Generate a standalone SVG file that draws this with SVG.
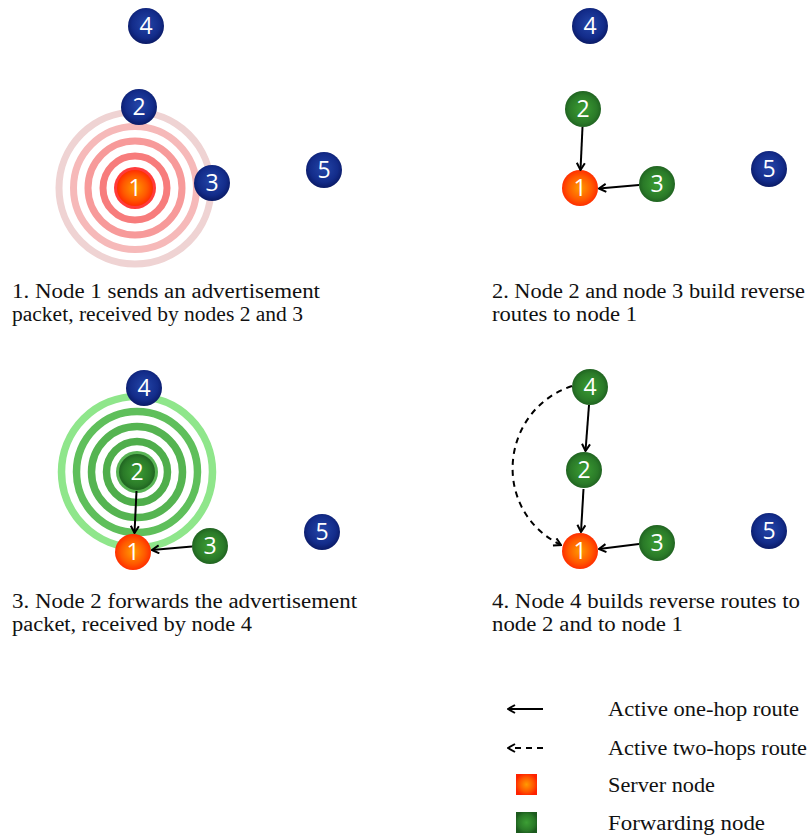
<svg xmlns="http://www.w3.org/2000/svg" width="811" height="835" viewBox="0 0 811 835">
  <style>
    .lbl { font-family: "Open Sans", "DejaVu Sans", sans-serif; font-size: 23px; fill: #ffffff; text-anchor: middle; }
    .cap { font-family: "Liberation Serif", "DejaVu Serif", serif; font-size: 20.5px; fill: #111111; }
    .route { stroke: #000; stroke-width: 2; fill: none; }
    .dash { stroke-dasharray: 6 5; }
    .red-ring { fill: none; stroke-width: 7; }
    .green-ring { fill: none; stroke-width: 7.5; }
  </style>
  <defs>
    <radialGradient id="gBlue" cx="50%" cy="45%" r="55%">
      <stop offset="0" stop-color="#2446a8"/>
      <stop offset="0.7" stop-color="#132c8a"/>
      <stop offset="1" stop-color="#0a1a66"/>
    </radialGradient>
    <radialGradient id="gRed" cx="50%" cy="50%" r="55%">
      <stop offset="0" stop-color="#ff9a00"/>
      <stop offset="0.6" stop-color="#ff5a00"/>
      <stop offset="1" stop-color="#ff2200"/>
    </radialGradient>
    <radialGradient id="gGreen" cx="50%" cy="50%" r="55%">
      <stop offset="0" stop-color="#3c9e34"/>
      <stop offset="0.7" stop-color="#2a7a28"/>
      <stop offset="1" stop-color="#1c5a1e"/>
    </radialGradient>
    <marker id="head" viewBox="0 0 10 10" refX="9" refY="5" markerWidth="10" markerHeight="10" markerUnits="userSpaceOnUse" orient="auto-start-reverse">
      <path d="M2,1 L9,5 L2,9" fill="none" stroke="#000" stroke-width="2"/>
    </marker>
  </defs>

  <!-- Panel 1: node 1 advertises -->
  <g id="p1-waves">
    <circle class="red-ring" cx="135" cy="188" r="76" stroke="#efd3d3"/>
    <circle class="red-ring" cx="135" cy="188" r="61.5" stroke="#f6b9b9"/>
    <circle class="red-ring" cx="135" cy="188" r="47" stroke="#f79a9a"/>
    <circle class="red-ring" cx="135" cy="188" r="32" stroke="#f77c7c"/>
    <circle cx="135" cy="188" r="21" fill="#ff3b3b"/>
  </g>
  <g id="p1-n4"><circle cx="146" cy="26" r="18" fill="url(#gBlue)"/><text class="lbl" x="146" y="34">4</text></g>
  <g id="p1-n2"><circle cx="139" cy="107" r="18" fill="url(#gBlue)"/><text class="lbl" x="139" y="115">2</text></g>
  <g id="p1-n1"><circle cx="135" cy="188" r="18" fill="url(#gRed)"/><text class="lbl" x="135" y="196">1</text></g>
  <g id="p1-n3"><circle cx="212" cy="183" r="18" fill="url(#gBlue)"/><text class="lbl" x="212" y="191">3</text></g>
  <g id="p1-n5"><circle cx="324" cy="170" r="18" fill="url(#gBlue)"/><text class="lbl" x="324" y="178">5</text></g>
  <text class="cap" x="12" y="298" textLength="308" lengthAdjust="spacingAndGlyphs">1. Node 1 sends an advertisement</text>
  <text class="cap" x="12" y="321" textLength="291" lengthAdjust="spacingAndGlyphs">packet, received by nodes 2 and 3</text>

  <!-- Panel 2: reverse routes to node 1 -->
  <g id="p2-n4"><circle cx="590" cy="26" r="18" fill="url(#gBlue)"/><text class="lbl" x="590" y="34">4</text></g>
  <g id="p2-n2"><circle cx="583" cy="109" r="18" fill="url(#gGreen)"/><text class="lbl" x="583" y="117">2</text></g>
  <g id="p2-n1"><circle cx="580" cy="188" r="18" fill="url(#gRed)"/><text class="lbl" x="580" y="196">1</text></g>
  <g id="p2-n3"><circle cx="657" cy="184" r="18" fill="url(#gGreen)"/><text class="lbl" x="657" y="192">3</text></g>
  <g id="p2-n5"><circle cx="769" cy="169" r="18" fill="url(#gBlue)"/><text class="lbl" x="769" y="177">5</text></g>
  <text class="cap" x="492" y="298" textLength="313" lengthAdjust="spacingAndGlyphs">2. Node 2 and node 3 build reverse</text>
  <text class="cap" x="492" y="321" textLength="145" lengthAdjust="spacingAndGlyphs">routes to node 1</text>

  <!-- Panel 3: node 2 forwards -->
  <g id="p3-waves">
    <circle class="green-ring" cx="137" cy="472" r="75.5" stroke="#8fe68b"/>
    <circle class="green-ring" cx="137" cy="472" r="60.5" stroke="#5fbf5b"/>
    <circle class="green-ring" cx="137" cy="472" r="45.5" stroke="#55b451"/>
    <circle class="green-ring" cx="137" cy="472" r="30.5" stroke="#4fae4b"/>
    <circle cx="137" cy="472" r="21" fill="#58b454"/>
  </g>
  <g id="p3-n4"><circle cx="144" cy="388" r="18" fill="url(#gBlue)"/><text class="lbl" x="144" y="396">4</text></g>
  <g id="p3-n2"><circle cx="137" cy="472" r="18" fill="url(#gGreen)"/><text class="lbl" x="137" y="480">2</text></g>
  <g id="p3-n1"><circle cx="133" cy="552" r="18" fill="url(#gRed)"/><text class="lbl" x="133" y="560">1</text></g>
  <g id="p3-n3"><circle cx="210" cy="546" r="18" fill="url(#gGreen)"/><text class="lbl" x="210" y="554">3</text></g>
  <g id="p3-n5"><circle cx="322" cy="532" r="18" fill="url(#gBlue)"/><text class="lbl" x="322" y="540">5</text></g>
  <text class="cap" x="12" y="608" textLength="345" lengthAdjust="spacingAndGlyphs">3. Node 2 forwards the advertisement</text>
  <text class="cap" x="12" y="631" textLength="240" lengthAdjust="spacingAndGlyphs">packet, received by node 4</text>

  <!-- Panel 4: node 4 builds routes -->
  <g id="p4-n4"><circle cx="590" cy="387" r="18" fill="url(#gGreen)"/><text class="lbl" x="590" y="395">4</text></g>
  <g id="p4-n2"><circle cx="584" cy="470" r="18" fill="url(#gGreen)"/><text class="lbl" x="584" y="478">2</text></g>
  <g id="p4-n1"><circle cx="580" cy="551" r="18" fill="url(#gRed)"/><text class="lbl" x="580" y="559">1</text></g>
  <g id="p4-n3"><circle cx="657" cy="543" r="18" fill="url(#gGreen)"/><text class="lbl" x="657" y="551">3</text></g>
  <g id="p4-n5"><circle cx="769" cy="531" r="18" fill="url(#gBlue)"/><text class="lbl" x="769" y="539">5</text></g>
  <text class="cap" x="492" y="608" textLength="308" lengthAdjust="spacingAndGlyphs">4. Node 4 builds reverse routes to</text>
  <text class="cap" x="492" y="631" textLength="191" lengthAdjust="spacingAndGlyphs">node 2 and to node 1</text>

  <!-- Routes -->
  <g id="connectors">
    <line class="route" x1="582.5" y1="127" x2="580.5" y2="170" marker-end="url(#head)"/>
    <line class="route" x1="639" y1="185" x2="599" y2="188.5" marker-end="url(#head)"/>
    <line class="route" x1="136.5" y1="491" x2="134.5" y2="533" marker-end="url(#head)"/>
    <line class="route" x1="192" y1="546.5" x2="152" y2="550" marker-end="url(#head)"/>
    <line class="route" x1="589" y1="405" x2="585.5" y2="451" marker-end="url(#head)"/>
    <line class="route" x1="583.5" y1="489" x2="581" y2="532" marker-end="url(#head)"/>
    <line class="route" x1="639" y1="544" x2="599" y2="549" marker-end="url(#head)"/>
    <path class="route dash" d="M572,386 C500,410 490,510 561,545" marker-end="url(#head)"/>
  </g>

  <!-- Legend -->
  <g id="legend">
    <line class="route" x1="543" y1="709" x2="508" y2="709" marker-end="url(#head)"/>
    <line class="route dash" x1="543" y1="748" x2="508" y2="748" marker-end="url(#head)"/>
    <rect x="516" y="774" width="21" height="21" fill="url(#gRed)"/>
    <rect x="516" y="812" width="21" height="21" fill="url(#gGreen)"/>
    <text class="cap" x="608" y="716" textLength="191" lengthAdjust="spacingAndGlyphs">Active one-hop route</text>
    <text class="cap" x="608" y="755" textLength="199" lengthAdjust="spacingAndGlyphs">Active two-hops route</text>
    <text class="cap" x="608" y="792" textLength="107" lengthAdjust="spacingAndGlyphs">Server node</text>
    <text class="cap" x="608" y="830" textLength="157" lengthAdjust="spacingAndGlyphs">Forwarding node</text>
  </g>
</svg>
